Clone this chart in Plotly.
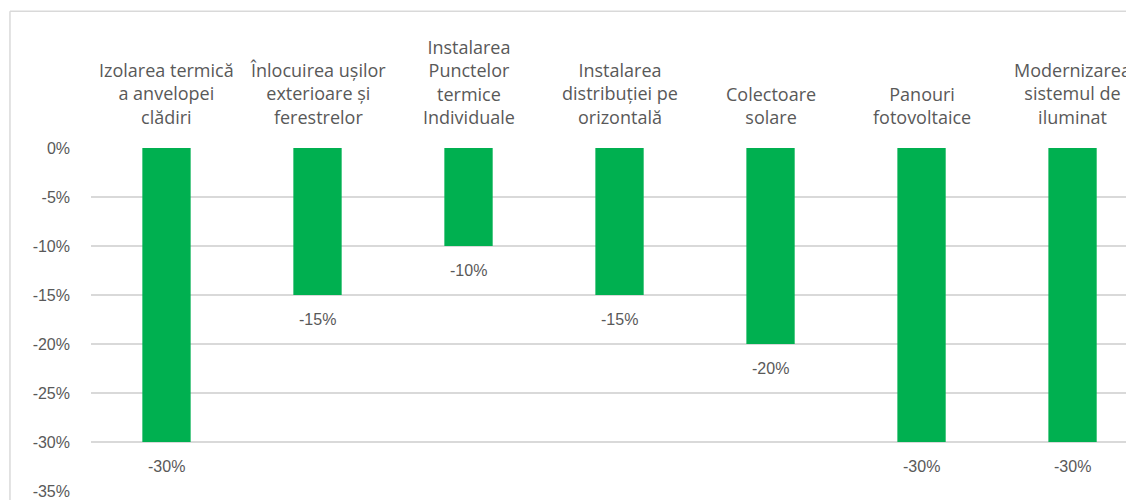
import plotly.graph_objects as go

categories = [
    "Izolarea termică<br>a anvelopei<br>clădiri",
    "Înlocuirea ușilor<br>exterioare și<br>ferestrelor",
    "Instalarea<br>Punctelor<br>termice<br>Individuale",
    "Instalarea<br>distribuției pe<br>orizontală",
    "Colectoare<br>solare",
    "Panouri<br>fotovoltaice",
    "Modernizarea<br>sistemul de<br>iluminat",
]
values = [-0.30, -0.15, -0.10, -0.15, -0.20, -0.30, -0.30]
tick_vals = [0, -0.05, -0.10, -0.15, -0.20, -0.25, -0.30, -0.35]
tick_text = ["0%", "-5%", "-10%", "-15%", "-20%", "-25%", "-30%", "-35%"]

x_idx = list(range(len(categories)))
GREEN = "#00B050"
TXT = "#595959"

fig = go.Figure()
fig.add_trace(go.Bar(
    x=x_idx, y=values, marker=dict(color=GREEN, line=dict(width=0)),
    width=0.32, hoverinfo="skip",
))

annotations = []
for i, (c, v) in enumerate(zip(categories, values)):
    annotations.append(dict(
        x=i, y=0, xref="x", yref="y", text=c, showarrow=False,
        yanchor="bottom", xanchor="center", yshift=17,
        font=dict(family="Open Sans, Noto Sans, sans-serif", size=18, color=TXT),
        align="center",
    ))
    annotations.append(dict(
        x=i, y=v, xref="x", yref="y", text=f"{round(v*100)}%", showarrow=False,
        yanchor="top", xanchor="center", yshift=-14,
        font=dict(family="Liberation Sans, Arial, sans-serif", size=16, color=TXT),
    ))

fig.update_layout(
    width=1126, height=492,
    margin=dict(l=83, r=0, t=140, b=9),
    paper_bgcolor="white", plot_bgcolor="white",
    showlegend=False,
    annotations=annotations,
    xaxis=dict(range=[-0.5, 6.407], showticklabels=False, showgrid=False,
               zeroline=False, showline=False, fixedrange=True),
    yaxis=dict(range=[-0.35, 0], tickvals=tick_vals, ticktext=tick_text,
               showgrid=True, gridcolor="#D9D9D9", gridwidth=1.5,
               zeroline=False, showline=False, ticks="",
               ticklabelstandoff=20,
               tickfont=dict(family="Liberation Sans, Arial, sans-serif", size=16, color=TXT)),
    shapes=[
        dict(type="line", xref="paper", yref="paper", x0=-0.0777, x1=1.01, y0=1.399, y1=1.399,
             line=dict(color="#D9D9D9", width=1.5)),
        dict(type="line", xref="paper", yref="paper", x0=-0.0777, x1=-0.0777, y0=1.399, y1=-0.03,
             line=dict(color="#D9D9D9", width=1.5)),
    ],
)

fig.write_html("out.html")
